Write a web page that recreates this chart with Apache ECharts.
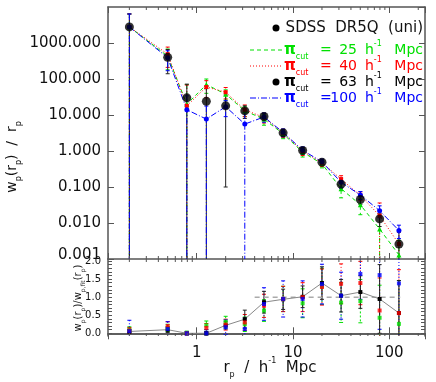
<!DOCTYPE html>
<html>
<head>
<meta charset="utf-8">
<script src="https://cdn.jsdelivr.net/npm/echarts@6/dist/echarts.min.js"></script>
<style>
  html, body { margin: 0; padding: 0; background: #fff; }
  #chart { width: 436px; height: 382px; }
</style>
</head>
<body>
<div id="chart"></div>
<script>
// projected separation bins (h^-1 Mpc)
var rp = [0.2, 0.5, 0.79, 1.26, 2.0, 3.16, 5.0, 7.9, 12.6, 20.0, 31.6, 50.1, 79.4, 126];

// wp(rp)/rp for each pi_cut
var wp25  = [2800, 430, 20, 70, 38, 13, 7.7, 3.0, 0.93, 0.44, 0.09, 0.032, 0.0068, 0.0013];
var wp40  = [2800, 490, 18, 60, 43, 14, 8.5, 3.2, 1.0, 0.47, 0.166, 0.058, 0.016, 0.0026];
var wp63  = [2800, 400, 30, 24, 18, 13, 9.1, 3.2, 1.04, 0.49, 0.12, 0.045, 0.013, 0.0026];
var wp100 = [2800, 390, 14, 7.7, 17, 5.6, 8.8, 3.3, 1.05, 0.5, 0.135, 0.06, 0.022, 0.0062];

var err25  = [3600, 250, 50, 30, 12, 4, 2.5, 0.8, 0.25, 0.1, 0.04, 0.015, 0.008, 0.002];
var err40  = [3600, 280, 50, 30, 15, 5, 2.5, 0.8, 0.25, 0.1, 0.04, 0.015, 0.02, 0.003];
var err63  = [3600, 260, 42, 30, 17.9, 5, 2.2, 0.7, 0.2, 0.08, 0.03, 0.012, 0.005, 0.003];
var err100 = [3600, 220, 20, 10, 8, 6, 2.5, 0.8, 0.25, 0.1, 0.04, 0.015, 0.008, 0.0025];

// ratio to power-law fit
var rat25  = [0.1, 0.15, 0.02, 0.22, 0.32, 0.25, 0.63, 0.95, 0.83, 1.3, 0.85, 0.89, 0.43, 0.26];
var rat40  = [0.08, 0.2, 0.0, 0.15, 0.24, 0.3, 0.76, 0.95, 1.0, 1.28, 1.37, 1.39, 0.63, 0.56];
var rat63  = [0.05, 0.1, 0.0, 0.0, 0.22, 0.39, 0.86, 0.94, 1.01, 1.39, 1.04, 1.14, 0.95, 0.56];
var rat100 = [0.06, 0.12, 0.0, 0.0, 0.17, 0.12, 0.81, 0.95, 0.95, 1.36, 1.04, 1.64, 1.61, 1.38];

var rerr25  = [0.08, 0.1, 0.03, 0.12, 0.15, 0.2, 0.3, 0.35, 0.4, 0.5, 0.55, 0.6, 0.9, 1.2];
var rerr40  = [0.08, 0.12, 0.03, 0.12, 0.15, 0.22, 0.32, 0.35, 0.4, 0.5, 0.55, 0.6, 0.9, 1.2];
var rerr63  = [0.05, 0.08, 0.03, 0.05, 0.1, 0.25, 0.3, 0.28, 0.3, 0.45, 0.45, 0.45, 0.95, 0.9];
var rerr100 = [0.3, 0.2, 0.05, 0.1, 0.2, 0.3, 0.45, 0.5, 0.5, 0.55, 0.65, 0.7, 1.5, 1.6];

var fitRange = [4, 130];
var xLabels = [1, 10, 100];
var minorX = [0.2, 0.3, 0.4, 0.5, 0.6, 0.7, 0.8, 0.9, 2, 3, 4, 5, 6, 7, 8, 9,
              20, 30, 40, 50, 60, 70, 80, 90, 200];
var ratioLabels = [0, 0.5, 1.0, 1.5, 2.0];
var ratioTicks = [0, 0.1, 0.2, 0.3, 0.4, 0.5, 0.6, 0.7, 0.8, 0.9, 1.0,
                  1.1, 1.2, 1.3, 1.4, 1.5, 1.6, 1.7, 1.8, 1.9, 2.0];

var GREEN = '#00e000', RED = '#ff0000', BLUE = '#0000ff', BLACK = '#000000';
var FONT = '"DejaVu Sans", sans-serif';
var AX = '#555';
var RMIN = -0.075, RMAX = 2.055;

var myChart = echarts.init(document.getElementById('chart'));

function pts(xs, ys) { return xs.map(function (x, i) { return [x, ys[i]]; }); }
function tri(xs, ys, es) { return xs.map(function (x, i) { return [x, ys[i], es[i]]; }); }

function errSeries(xi, yi, data, color, dash, lo, hi) {
  return {
    type: 'custom', xAxisIndex: xi, yAxisIndex: yi, data: data, silent: true,
    encode: { x: 0, y: 1 }, clip: true, z: 1,
    renderItem: function (params, api) {
      var x = api.value(0), v = api.value(1), e = api.value(2);
      var top = v + e, bot = v - e, tc = false, bc = false;
      if (top > hi) { top = hi; tc = true; }
      if (bot < lo) { bot = lo; bc = true; }
      var p1 = api.coord([x, top]), p2 = api.coord([x, bot]);
      var st = { stroke: color, lineWidth: 1, lineDash: dash };
      var ch = [{ type: 'line', shape: { x1: p1[0], y1: p1[1], x2: p2[0], y2: p2[1] }, style: st }];
      var cst = { stroke: color, lineWidth: 1 };
      if (!tc) ch.push({ type: 'line', shape: { x1: p1[0] - 2, y1: p1[1], x2: p1[0] + 2, y2: p1[1] }, style: cst });
      if (!bc) ch.push({ type: 'line', shape: { x1: p2[0] - 2, y1: p2[1], x2: p2[0] + 2, y2: p2[1] }, style: cst });
      return { type: 'group', children: ch };
    }
  };
}

function minorTicks(xi, yi, yRef) {
  return {
    type: 'custom', xAxisIndex: xi, yAxisIndex: yi, silent: true, z: 5,
    data: minorX.map(function (x) { return [x, yRef]; }),
    encode: { x: 0, y: 1 },
    renderItem: function (params, api) {
      var cs = params.coordSys;
      var px = api.coord([api.value(0), yRef])[0];
      var st = { stroke: AX, lineWidth: 1 };
      return { type: 'group', children: [
        { type: 'line', shape: { x1: px, y1: cs.y + cs.height, x2: px, y2: cs.y + cs.height - 3 }, style: st },
        { type: 'line', shape: { x1: px, y1: cs.y, x2: px, y2: cs.y + 3 }, style: st }
      ] };
    }
  };
}

function xAx(grid, pos, labels) {
  return {
    type: 'log', logBase: 10, gridIndex: grid, position: pos, min: 0.12, max: 235,
    axisLine: { show: true, lineStyle: { color: AX, width: 1.5 } },
    axisTick: { show: true, inside: true, length: 6, lineStyle: { color: AX } },
    splitLine: { show: false },
    axisLabel: labels ? {
      show: true, margin: 10, color: '#111', fontSize: 15, fontFamily: FONT,
      showMinLabel: false, showMaxLabel: false,
      formatter: function (v) { return xLabels.indexOf(Math.round(v * 1000) / 1000) >= 0 ? String(Math.round(v)) : ''; }
    } : { show: false }
  };
}

function ratioAx(pos, labels) {
  return {
    type: 'value', gridIndex: 1, position: pos, min: RMIN, max: RMAX,
    axisLine: { show: true, lineStyle: { color: AX, width: 1.5 } },
    axisTick: { show: true, inside: true, length: 4, customValues: ratioTicks, lineStyle: { color: AX } },
    splitLine: { show: false },
    axisLabel: labels ? {
      margin: 7, color: '#111', fontSize: 10, fontFamily: FONT, hideOverlap: false,
      customValues: ratioLabels,
      formatter: function (v) { return v.toFixed(1); }
    } : { show: false }
  };
}

var richBase = function (size, sub) {
  return {
    n: { fontSize: size, fontFamily: FONT, lineHeight: size + 7 },
    s: { fontSize: sub, fontFamily: FONT, verticalAlign: 'bottom' },
    u: { fontSize: sub, fontFamily: FONT, verticalAlign: 'top' },
    p: { fontSize: size + 1, fontFamily: FONT, fontWeight: 'bold', lineHeight: size + 7 }
  };
};

var legendRows = [
  { y: 50, color: GREEN, dash: [4, 3], val: '25', kind: 'line' },
  { y: 66, color: RED, dash: [1, 2], val: '40', kind: 'line' },
  { y: 82, color: BLACK, dash: null, val: '63', kind: 'dot' },
  { y: 98, color: BLUE, dash: [6, 2, 1, 2], val: '100', kind: 'line' }
];

var graphics = [
  { type: 'circle', shape: { cx: 276, cy: 28, r: 3.5 }, style: { fill: BLACK } },
  { type: 'text', style: { text: 'SDSS  DR5Q  (uni)', x: 423, y: 28, align: 'right', verticalAlign: 'middle',
      fontSize: 15, fontFamily: FONT, fill: '#111' } }
];
legendRows.forEach(function (r) {
  if (r.kind === 'line') {
    graphics.push({ type: 'line', shape: { x1: 250, y1: r.y, x2: 283, y2: r.y },
      style: { stroke: r.color, lineWidth: 1, lineDash: r.dash } });
  } else {
    graphics.push({ type: 'circle', shape: { cx: 276, cy: r.y, r: 3.5 }, style: { fill: BLACK } });
  }
  var txt = function (t, x, align, rich) {
    var s = { text: t, x: x, y: r.y, align: align, verticalAlign: 'middle', fill: r.color,
      fontSize: 14, fontFamily: FONT };
    if (rich) s.rich = richBase(14, 8);
    graphics.push({ type: 'text', style: s });
  };
  txt('{p|π}{s|cut}', 284, 'left', true);
  txt('=', 320, 'left', false);
  txt(r.val, 357, 'right', false);
  txt('{n|h}{u|-1}', 365, 'left', true);
  txt('Mpc', 423, 'right', false);
});
// axis titles
graphics.push({ type: 'text', x: 12, y: 157, rotation: Math.PI / 2,
  style: { text: '{n|w}{s|p}{n|(r}{s|p}{n|)  /  r}{s|p}', align: 'center', verticalAlign: 'middle',
    rich: richBase(14, 8), fill: '#111' } });
graphics.push({ type: 'text', x: 78, y: 298, rotation: Math.PI / 2,
  style: { text: '{n|w}{s|p}{n|(r}{s|p}{n|)/w}{s|p,fit}{n|(r}{s|p}{n|)}', align: 'center', verticalAlign: 'middle',
    rich: richBase(10, 6), fill: '#111' } });
graphics.push({ type: 'text', x: 270, y: 368,
  style: { text: '{n|r}{s|p}{n|  /  h}{u|-1}{n|  Mpc}', align: 'center', verticalAlign: 'middle',
    rich: richBase(15, 8), fill: '#111' } });

var option = {
  animation: false,
  backgroundColor: '#fff',
  grid: [
    { left: 108, top: 7, width: 317, height: 252 },
    { left: 108, top: 259, width: 317, height: 77 }
  ],
  xAxis: [xAx(0, 'bottom', false), xAx(0, 'top', false), xAx(1, 'bottom', true), xAx(1, 'top', false)],
  yAxis: [
    { type: 'log', logBase: 10, gridIndex: 0, position: 'left', min: 0.001, max: 10000,
      axisLine: { show: true, lineStyle: { color: AX, width: 1.5 } },
      axisTick: { show: true, inside: true, length: 6, lineStyle: { color: AX } },
      splitLine: { show: false },
      axisLabel: { margin: 7, color: '#111', fontSize: 15, fontFamily: FONT, showMaxLabel: false, hideOverlap: false,
        rich: { b: { fontSize: 15, fontFamily: FONT, color: '#111', padding: [0, 0, 7, 0] } },
        formatter: function (v) { return v < 0.002 ? '{b|' + v.toFixed(3) + '}' : v.toFixed(3); } } },
    { type: 'log', logBase: 10, gridIndex: 0, position: 'right', min: 0.001, max: 10000,
      axisLine: { show: true, lineStyle: { color: AX, width: 1.5 } },
      axisTick: { show: true, inside: true, length: 6, lineStyle: { color: AX } },
      splitLine: { show: false }, axisLabel: { show: false } },
    ratioAx('left', true),
    ratioAx('right', false)
  ],
  graphic: graphics,
  series: [
    minorTicks(0, 0, 1),
    minorTicks(2, 2, 1),
    // top panel error bars
    errSeries(0, 0, tri(rp, wp25, err25), GREEN, [4, 3], 0.001, 10000),
    errSeries(0, 0, tri(rp, wp40, err40), RED, [1, 2], 0.001, 10000),
    errSeries(0, 0, tri(rp, wp63, err63), '#222', null, 0.001, 10000),
    errSeries(0, 0, tri(rp, wp100, err100), BLUE, [6, 2, 1, 2], 0.001, 10000),
    // top panel lines
    { type: 'line', xAxisIndex: 0, yAxisIndex: 0, data: pts(rp, wp25), symbol: 'triangle', symbolSize: 5,
      itemStyle: { color: GREEN }, lineStyle: { color: GREEN, width: 1, type: [4, 3] }, z: 3 },
    { type: 'line', xAxisIndex: 0, yAxisIndex: 0, data: pts(rp, wp40), symbol: 'rect', symbolSize: 4,
      itemStyle: { color: RED }, lineStyle: { color: RED, width: 1, type: [1, 2] }, z: 3 },
    { type: 'line', xAxisIndex: 0, yAxisIndex: 0, data: pts(rp, wp100), symbol: 'circle', symbolSize: 5,
      itemStyle: { color: BLUE }, lineStyle: { color: BLUE, width: 1, type: [6, 2, 1, 2] }, z: 3 },
    { type: 'scatter', xAxisIndex: 0, yAxisIndex: 0, data: pts(rp, wp63), symbol: 'circle', symbolSize: 9,
      itemStyle: { color: BLACK }, z: 4 },
    // bottom panel
    { type: 'line', xAxisIndex: 2, yAxisIndex: 2, data: pts(fitRange, [1, 1]), symbol: 'none',
      lineStyle: { color: '#aaa', width: 1.5, type: [5, 4] }, z: 2 },
    errSeries(2, 2, tri(rp, rat25, rerr25), GREEN, [2, 2], RMIN, RMAX),
    errSeries(2, 2, tri(rp, rat40, rerr40), RED, [1, 2], RMIN, RMAX),
    errSeries(2, 2, tri(rp, rat100, rerr100), BLUE, [1, 2], RMIN, RMAX),
    errSeries(2, 2, tri(rp, rat63, rerr63), '#222', null, RMIN, RMAX),
    { type: 'line', xAxisIndex: 2, yAxisIndex: 2, data: pts(rp, rat63), symbol: 'rect', symbolSize: 4,
      itemStyle: { color: BLACK }, lineStyle: { color: '#888', width: 1 }, z: 3 },
    { type: 'scatter', xAxisIndex: 2, yAxisIndex: 2, data: pts(rp, rat25), symbol: 'rect', symbolSize: 4,
      itemStyle: { color: GREEN }, z: 4 },
    { type: 'scatter', xAxisIndex: 2, yAxisIndex: 2, data: pts(rp, rat40), symbol: 'rect', symbolSize: 4,
      itemStyle: { color: RED }, z: 4 },
    { type: 'scatter', xAxisIndex: 2, yAxisIndex: 2, data: pts(rp, rat100), symbol: 'rect', symbolSize: 4,
      itemStyle: { color: BLUE }, z: 4 }
  ]
};

myChart.setOption(option, true);
</script>
</body>
</html>
